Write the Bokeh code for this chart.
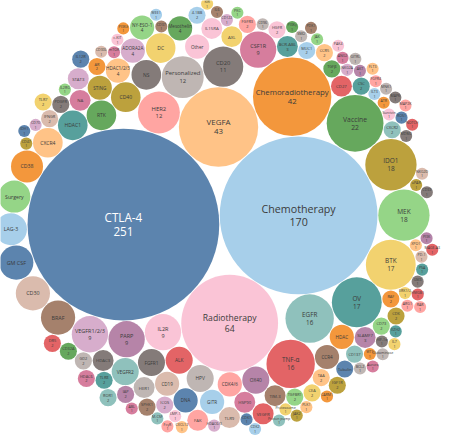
import math
import numpy as np
from bokeh.plotting import figure
from bokeh.models import ColumnDataSource, Range1d
from bokeh.embed import file_html
from bokeh.resources import INLINE
from bokeh.core.properties import value

# ---------------- data ----------------
big_names = ["CTLA-4", "Chemotherapy", "Radiotherapy", "VEGFA", "Chemoradiotherapy", "Vaccine",
             "IDO1", "MEK", "BTK", "OV", "EGFR", "TNF-α", "HER2", "Personalized", "CD20",
             "CSF1R", "IL2R", "PARP", "VEGFR1/2/3"]
big_values = [251, 170, 64, 43, 42, 22, 18, 18, 17, 17, 16, 16, 12, 12, 11, 9, 9, 9, 9]
big_colors = ["blue", "lightblue", "lightpink", "lightorange", "orange", "green", "olive",
              "lightgreen", "yellow", "teal", "lightteal", "red", "lightred", "lightgrey", "grey",
              "pink", "lightpink", "purple", "lightpurple"]

mid_names = ["BRAF", "CD30", "GM CSF", "LAG-3", "Surgery", "CD38", "CXCR4", "HDAC1", "RTK", "CD40",
             "NS", "DC", "ALK", "FGFR1", "VEGFR2", "HPV", "OX40",
             "CDK4/6", "GITR", "HDAC", "CCR4", "CD19", "DNA", "Other", "STING",
             "HDAC3", "CD27", "FAK", "HER1", "AXL", "IL15RA", "NA", "STAT3", "HSP90", "TLR9",
             "TIM-3", "VEGFR", "CD137", "Tubulin"]
mid_values = [8, 8, 8, 7, 7, 7, 6, 6, 6, 6,
              6, 6, 5, 5, 5, 5, 5,
              4, 4, 4, 4, 4, 4, 4, 4,
              3, 3, 3, 3, 3, 3, 3, 3, 3, 3,
              3, 3, 2, 2]
mid_colors = ["brown", "lightbrown", "blue", "lightblue", "lightgreen", "orange", "lightorange",
              "teal", "green", "olive", "grey", "yellow", "red", "grey", "lightteal", "lightgrey",
              "purple", "lightred", "lightblue", "orange", "brown", "lightbrown", "blue",
              "lightpink", "olive", "grey", "red", "lightred", "lightgrey", "yellow", "lightpink",
              "pink", "lightpurple", "pink", "lightbrown", "brown", "red", "lightteal", "blue"]

small_names = ["HDAC1/2/3", "ADORA2A", "NY-ESO-1", "Mesothelin", "BCR-ABL", "SLAMF7",
               "TGFβ", "TAA", "RAF", "MUC1", "CCR5", "TGFBR1", "IGF1R", "ICOS", "SPHK1", "CD73",
               "CDK", "CEA", "CSC", "CXCR2", "4-1BB", "AR", "PDGFR", "GD2", "CD32A", "DR5",
               "FGFR3", "IL12R", "IFNGR", "TLR7", "TLR8", "HDAC6", "HGFR", "IAP", "ROR1"]
small_values = [4, 4, 4, 4, 3, 3,
                2, 2, 2, 2, 2, 2, 2, 2, 2, 2,
                2, 2, 2, 2, 2, 2, 2, 2, 2, 2,
                2, 2, 2, 2, 2, 2, 2, 2, 2]
small_colors = ["lightorange", "lightpurple", "lightgreen", "green", "teal", "purple",
                "green", "lightorange", "orange", "lightblue", "lightorange", "lightgreen", "olive",
                "lightpurple", "brown", "lightgreen", "olive", "yellow", "teal", "lightteal",
                "lightblue", "orange", "grey", "lightgrey", "green", "red", "lightred", "blue",
                "lightbrown", "yellow", "teal", "pink", "lightpink", "purple", "lightteal"]

one_names = ["NKG2A", "AKT", "mTOR", "XPO1", "CD30L", "CD96", "ILT3", "ATR", "Survivin", "ROS1",
             "CD122", "PKC", "ERK1/2", "uPAR", "IL2RG", "SMO", "ABL", "Proteasome", "Proton pump",
             "HDAC6/3", "LMP-1", "CD37", "WEE1", "WT1", "CDK1", "CDK2", "CARM1", "CXCL12",
             "PI3Kγ", "HIF-1α", "Glutaminase", "ANG2", "PAK4", "ARG1", "MDM2", "BCL2", "Aurora",
             "JAK", "PDK1", "PD-1", "PSA", "GM3", "HMGB1", "RAR", "c-KIT", "PI3Kδ", "PLK1",
             "JAK2", "CD70", "IL6", "KIR", "CD47", "IDH1", "NKG2D", "PI3K", "MAGE-A3", "M-CSF",
             "FcγR", "NOTCH", "FGFR4", "MNK1", "MAPK", "MAP2K", "FLT3", "EZH2", "IL7", "CD33",
             "GITRL"]
one_values = [1] * len(one_names)
one_colors = ["lightpurple", "purple", "pink", "lightorange", "lightbrown", "lightgrey",
              "lightblue", "orange", "lightpink", "blue",
              "lightpurple", "lightgreen", "yellow", "olive", "lightgreen", "lightgrey", "pink",
              "yellow", "lightteal", "lightpurple",
              "lightpink", "brown", "lightblue", "orange", "blue", "lightblue", "orange",
              "lightorange", "green", "grey",
              "lightgrey", "pink", "lightpink", "lightred", "grey", "lightgrey", "pink",
              "lightgreen", "brown", "lightbrown",
              "teal", "grey", "red", "lightred", "lightpink", "orange", "lightorange", "olive",
              "lightpurple", "brown",
              "yellow", "olive", "blue", "lightbrown", "purple", "red", "lightteal", "lightred",
              "red", "lightred",
              "lightgrey", "grey", "lightred", "lightorange", "teal", "yellow", "grey",
              "lightgrey"]

# labels that show only the name (no count line) in the chart
name_only = set(mid_names)

palette = {"blue": "#4e79a7", "lightblue": "#a0cbe8", "orange": "#f28e2b",
           "lightorange": "#ffbe7d", "green": "#59a14f", "lightgreen": "#8cd17d",
           "olive": "#b6992d", "yellow": "#f1ce63", "teal": "#499894", "lightteal": "#86bcb6",
           "red": "#e15759", "lightred": "#ff9d9a", "grey": "#79706e", "lightgrey": "#bab0ac",
           "pink": "#d37295", "lightpink": "#fabfd2", "purple": "#b07aa1",
           "lightpurple": "#d4a6c8", "brown": "#9d7660", "lightbrown": "#d7b5a6"}

names = big_names + mid_names + small_names + one_names
values = big_values + mid_values + small_values + one_values
color_keys = big_colors + mid_colors + small_colors + one_colors
colors = [palette[color_keys[k % len(color_keys)]] for k in range(len(names))]

# ---------------- front-chain packing, spiralling clockwise ----------------
PAD = 0.06
BONUS_BIG = 0.55   # keep winding round one of the two largest bubbles
BONUS = 0.78       # keep winding otherwise (larger bubbles only)
BONUS_SMALL = 0.98
SPIRAL_MIN = 6
TILT_DEG = -3.0    # slight tilt of the whole pack
order = sorted(range(len(values)), key=lambda i: -values[i])
circles = [{"x": 0.0, "y": 0.0, "r": math.sqrt(values[i]) + PAD, "v": values[i], "i": i}
           for i in order]


def place(b, a, c):
    dx = b["x"] - a["x"]
    dy = b["y"] - a["y"]
    d2 = dx * dx + dy * dy
    if d2:
        a2 = (a["r"] + c["r"]) ** 2
        b2 = (b["r"] + c["r"]) ** 2
        if a2 > b2:
            x = (d2 + b2 - a2) / (2 * d2)
            y = math.sqrt(max(0.0, b2 / d2 - x * x))
            c["x"] = b["x"] - x * dx - y * dy
            c["y"] = b["y"] - x * dy + y * dx
        else:
            x = (d2 + a2 - b2) / (2 * d2)
            y = math.sqrt(max(0.0, a2 / d2 - x * x))
            c["x"] = a["x"] + x * dx - y * dy
            c["y"] = a["y"] + x * dy + y * dx
    else:
        c["x"] = a["x"] + c["r"]
        c["y"] = a["y"]


def intersects(a, b):
    dr = a["r"] + b["r"] - 1e-6
    dx = b["x"] - a["x"]
    dy = b["y"] - a["y"]
    return dr > 0 and dr * dr > dx * dx + dy * dy


class Node:
    def __init__(self, c):
        self.c = c
        self.next = None
        self.previous = None


def pack(cs):
    n = len(cs)
    a, b = cs[0], cs[1]
    first_two = (cs[0], cs[1])
    a["x"], a["y"] = -b["r"], 0.0
    b["x"], b["y"] = a["r"], 0.0
    ox, oy = a["r"] - b["r"], 0.0  # tangent point of the two largest
    c = cs[2]
    place(b, a, c)
    a, b, c = Node(a), Node(b), Node(c)
    a.next = c.previous = b
    b.next = a.previous = c
    c.next = b.previous = a
    i = 3
    while i < n:
        place(a.c, b.c, cs[i])
        c = Node(cs[i])
        j, k = b.next, a.previous
        sj, sk = b.c["r"], a.c["r"]
        restart = False
        while True:
            if sj <= sk:
                if intersects(j.c, c.c):
                    b = j
                    a.next = b
                    b.previous = a
                    restart = True
                    break
                sj += j.c["r"]
                j = j.next
            else:
                if intersects(k.c, c.c):
                    a = k
                    a.next = b
                    b.previous = a
                    restart = True
                    break
                sk += k.c["r"]
                k = k.previous
            if j is k.next:
                break
        if restart:
            continue
        c.previous = a
        c.next = b
        a.next = b.previous = c
        if i + 1 < n:
            nxt = cs[i + 1]
            tmp = {"x": 0.0, "y": 0.0, "r": nxt["r"]}
            best, best_s = None, None
            node = c
            while True:
                place(node.c, node.next.c, tmp)
                s = math.hypot(tmp["x"] - ox, tmp["y"] - oy)
                if node is c:
                    if nxt["v"] >= SPIRAL_MIN:
                        s *= BONUS_BIG if any(node.next.c is f for f in first_two) else BONUS
                    else:
                        s *= BONUS_SMALL
                if best_s is None or s < best_s:
                    best, best_s = node, s
                node = node.next
                if node is c:
                    break
            a = best
            b = a.next
        i += 1
    return ox, oy


ox, oy = pack(circles)

th = math.radians(TILT_DEG)
x0 = np.array([c["x"] for c in circles]) - ox
y0 = np.array([c["y"] for c in circles]) - oy
xs = ox + x0 * math.cos(th) - y0 * math.sin(th)
ys = oy + x0 * math.sin(th) + y0 * math.cos(th)

W, H = 441, 436
OX_PX, OY_PX = 219, 219   # where the contact point of the two largest bubbles sits
SCALE = 6.05              # px per unit of sqrt(count)

idx = [c["i"] for c in circles]
draw_r = [math.sqrt(values[i]) for i in idx]
px_r = [r * SCALE for r in draw_r]
fs = [max(3.6, 1.5 * pr ** 0.45) for pr in px_r]

src = ColumnDataSource(dict(x=list(xs), y=list(-ys), r=draw_r, color=[colors[i] for i in idx]))

l1 = dict(x=[], y=[], t=[], fs=[], off=[], col=[])
l2 = dict(x=[], y=[], t=[], fs=[], off=[], col=[])
for n_, i in enumerate(idx):
    f = fs[n_]
    tc = "#ffffff" if names[i] == "CTLA-4" else "#3b3b3b"
    only = names[i] in name_only
    l1["x"].append(xs[n_]); l1["y"].append(-ys[n_]); l1["t"].append(names[i])
    l1["fs"].append(f"{f:.1f}px"); l1["off"].append(0.0 if only else -0.62 * f); l1["col"].append(tc)
    if not only:
        l2["x"].append(xs[n_]); l2["y"].append(-ys[n_]); l2["t"].append(str(values[i]))
        l2["fs"].append(f"{f:.1f}px"); l2["off"].append(0.62 * f); l2["col"].append(tc)

p = figure(width=W, height=H, output_backend="svg", toolbar_location=None,
           x_range=Range1d(ox - OX_PX / SCALE, ox + (W - OX_PX) / SCALE),
           y_range=Range1d(-oy - (H - OY_PX) / SCALE, -oy + OY_PX / SCALE),
           min_border=0)
p.axis.visible = False
p.grid.visible = False
p.outline_line_color = None
p.background_fill_color = "white"

p.circle(x="x", y="y", radius="r", fill_color="color", fill_alpha=0.92, line_color=None,
         source=src)

for s in (ColumnDataSource(l1), ColumnDataSource(l2)):
    p.text(x="x", y="y", text="t", text_font_size="fs", y_offset="off", text_color="col",
           text_align="center", text_baseline="middle", text_font=value("Open Sans"),
           source=s)

open("out.html", "w").write(file_html(p, INLINE))
